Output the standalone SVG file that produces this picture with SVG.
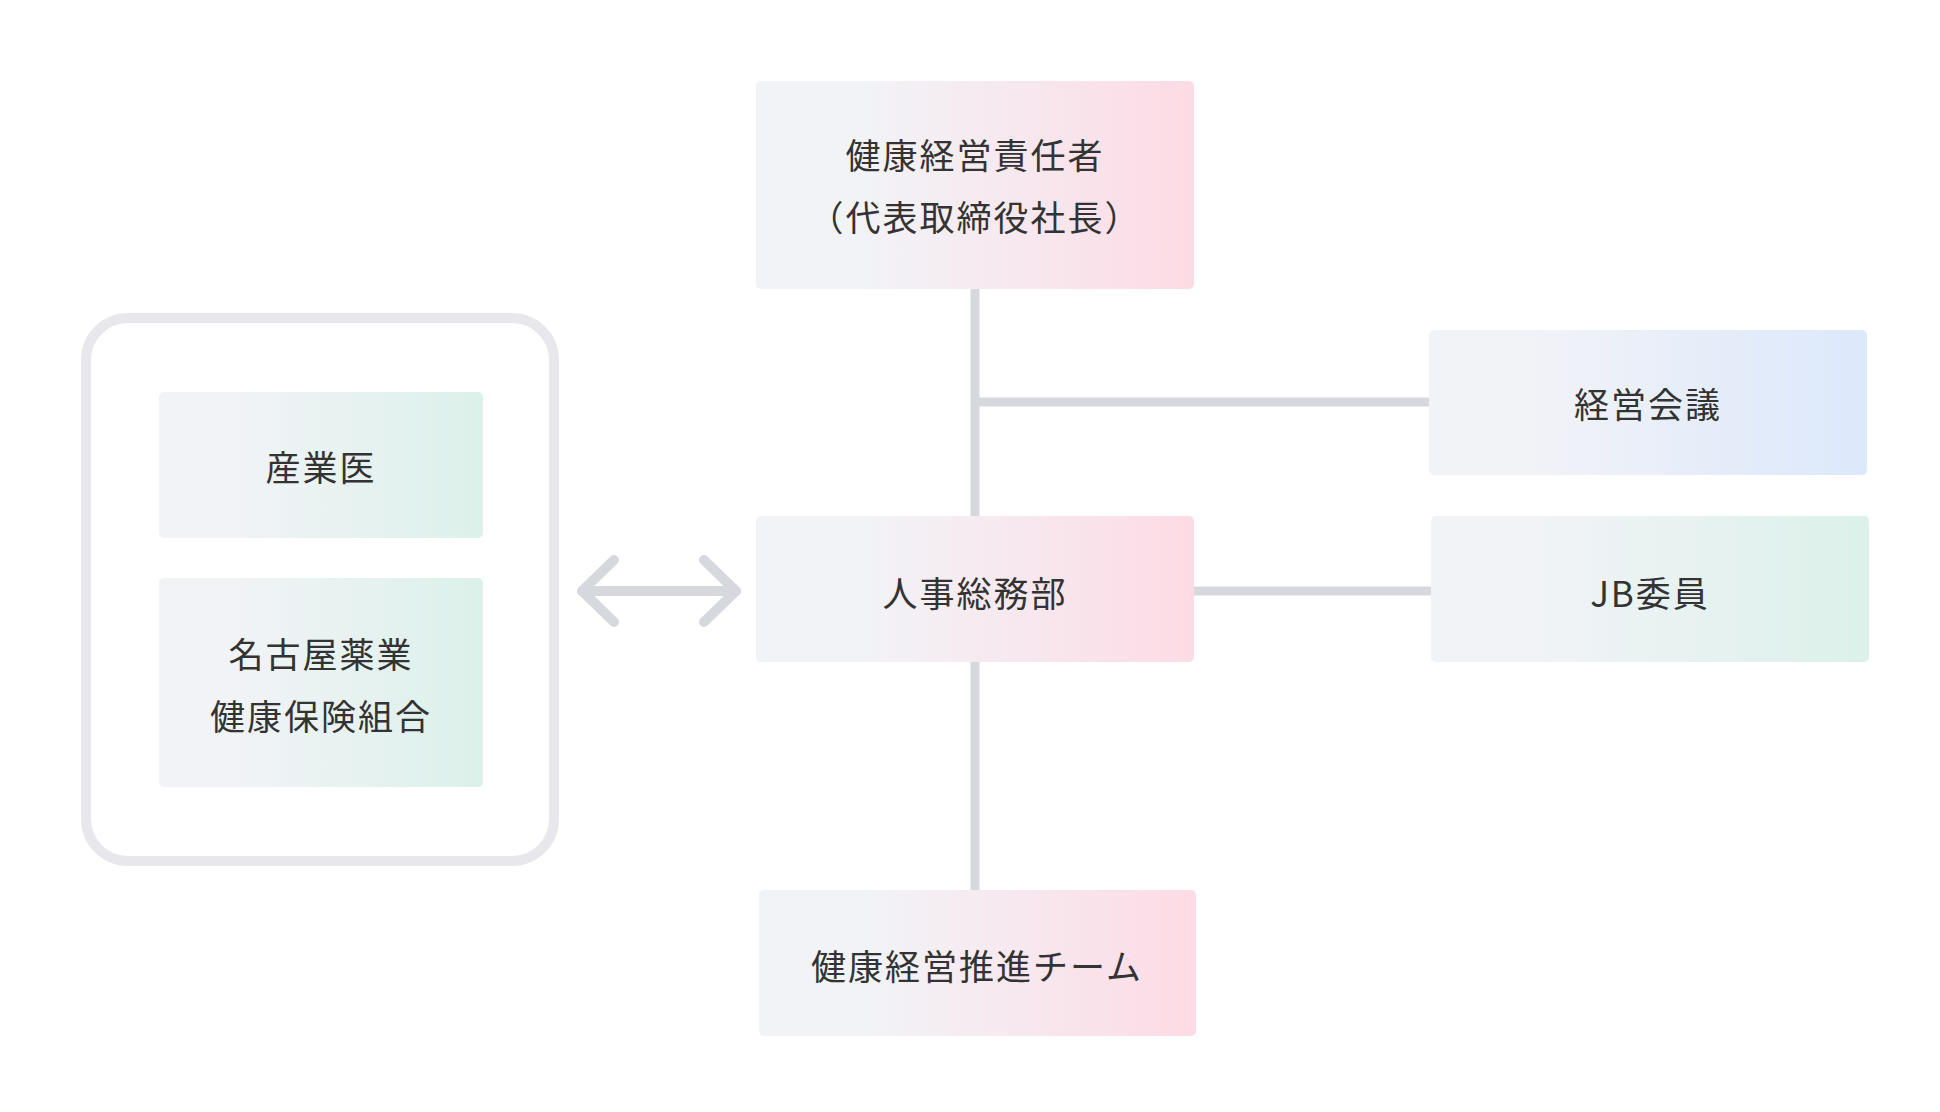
<svg xmlns="http://www.w3.org/2000/svg" width="1940" height="1112" viewBox="0 0 1940 1112">
<defs>
<linearGradient id="gp" x1="0" x2="1" y1="0" y2="0"><stop offset="0.25" stop-color="#f2f3f7"/><stop offset="1" stop-color="#fddbe5"/></linearGradient>
<linearGradient id="gb" x1="0" x2="1" y1="0" y2="0"><stop offset="0.2" stop-color="#f2f3f7"/><stop offset="1" stop-color="#dce8fb"/></linearGradient>
<linearGradient id="gg" x1="0" x2="1" y1="0" y2="0"><stop offset="0.2" stop-color="#f2f3f7"/><stop offset="1" stop-color="#dcf1ea"/></linearGradient>
<style>
text{font-family:"Noto Sans CJK JP","Noto Sans",sans-serif;font-size:35px;fill:#333;text-anchor:middle;dominant-baseline:central;letter-spacing:2px}
.ln{stroke:#d6d8de;stroke-width:9;fill:none}
</style>
</defs>
<g id="connectors">
<line class="ln" x1="975" y1="289" x2="975" y2="890"/>
<line class="ln" x1="975" y1="402" x2="1429" y2="402"/>
<line class="ln" x1="1194" y1="591" x2="1431" y2="591"/>
<g stroke="#d6d8de" stroke-width="10" stroke-linecap="round" stroke-linejoin="round" fill="none">
<line x1="582" y1="591" x2="736" y2="591"/>
<polyline points="614,560 582,591 614,622"/>
<polyline points="704,560 736,591 704,622"/>
</g>
</g>
<g id="outer"><rect x="86" y="318" width="468" height="543" rx="42" fill="none" stroke="#e8e8ec" stroke-width="10"/></g>
<g id="n-top"><rect x="756" y="81" width="438" height="208" rx="5" fill="url(#gp)"/><text x="975" y="153">健康経営責任者</text><text x="975" y="215">（代表取締役社長）</text></g>
<g id="n-kaigi"><rect x="1429" y="330" width="438" height="145" rx="5" fill="url(#gb)"/><text x="1648" y="402">経営会議</text></g>
<g id="n-jinji"><rect x="756" y="516" width="438" height="146" rx="5" fill="url(#gp)"/><text x="975" y="591">人事総務部</text></g>
<g id="n-jb"><rect x="1431" y="516" width="438" height="146" rx="5" fill="url(#gg)"/><text x="1650" y="591">JB委員</text></g>
<g id="n-team"><rect x="759" y="890" width="437" height="146" rx="5" fill="url(#gp)"/><text x="977" y="964">健康経営推進チーム</text></g>
<g id="n-sangyo"><rect x="159" y="392" width="324" height="146" rx="5" fill="url(#gg)"/><text x="321" y="465">産業医</text></g>
<g id="n-nagoya"><rect x="159" y="578" width="324" height="209" rx="5" fill="url(#gg)"/><text x="321" y="652">名古屋薬業</text><text x="321" y="714">健康保険組合</text></g>
</svg>
